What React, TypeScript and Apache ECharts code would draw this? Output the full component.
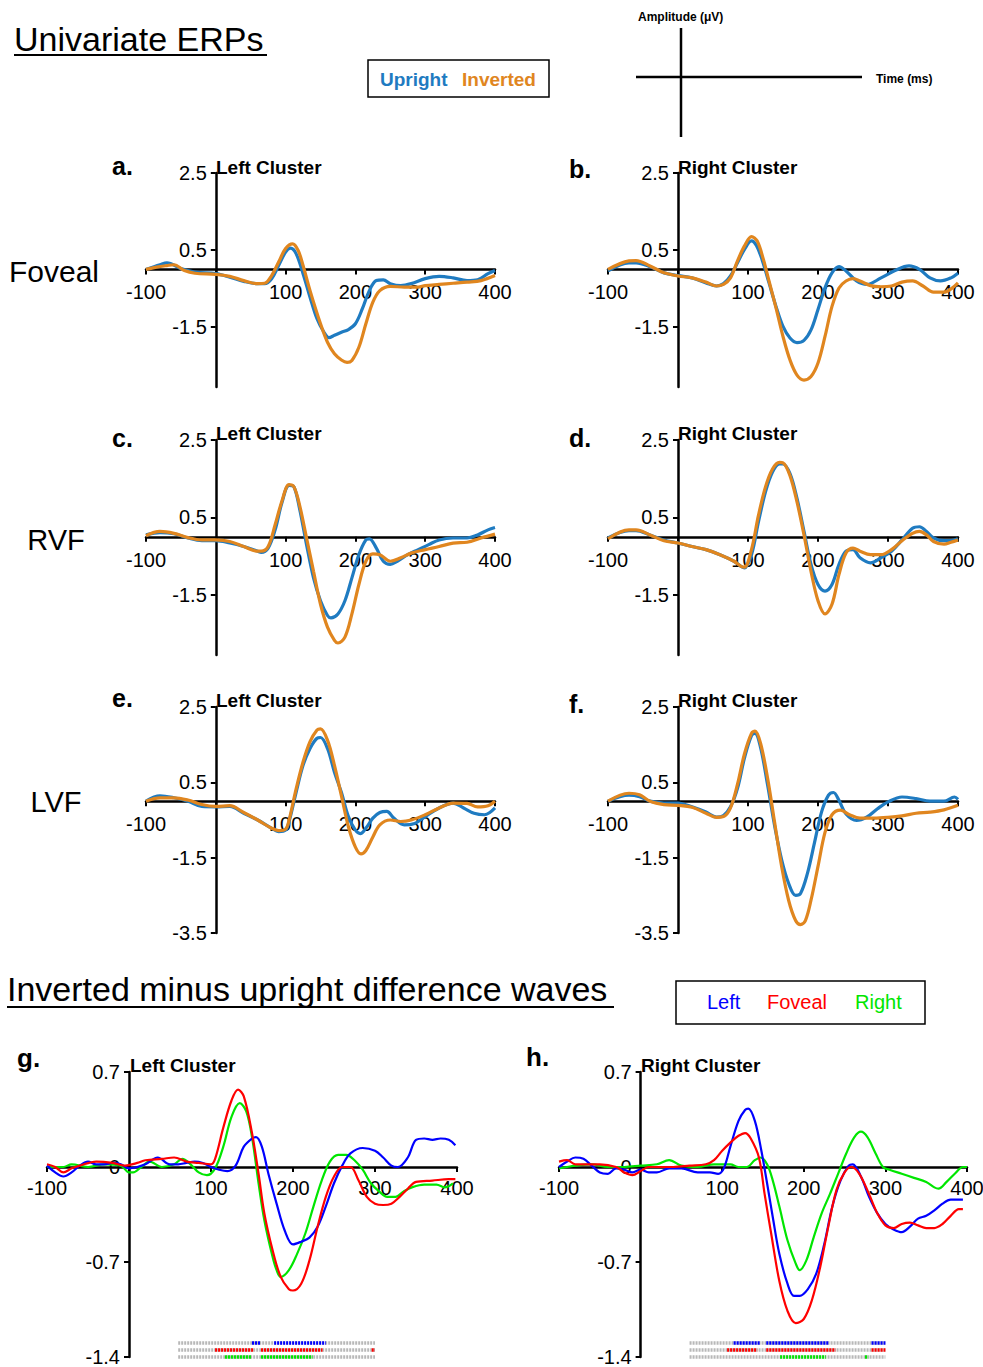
import React, { useEffect, useRef } from "react";
import * as echarts from "echarts";

const FONT = "'Liberation Sans', Arial, Helvetica, sans-serif";
const BLUE = "#1f7bc1";
const ORANGE = "#e0861f";
const C_LEFT = "#0000ff";
const C_FOV = "#ff0000";
const C_RIGHT = "#00e600";
const GRAY = "#b8b8b8";

// tick labels
const erpYTicksShort = [2.5, 0.5, -1.5];
const erpYTicksLong = [2.5, 0.5, -1.5, -3.5];

// ---- Univariate ERPs (time ms, amplitude µV) ----
const aUpright: number[][] = [[-100,0],[-80,0.12],[-70,0.17],[-50,0.02],[-30,-0.07],[0,-0.11],[20,-0.2],[40,-0.31],[60,-0.37],[70,-0.37],[80,-0.24],[90,0.1],[100,0.45],[107,0.55],[115,0.41],[125,-0.11],[135,-0.72],[145,-1.28],[155,-1.63],[162,-1.77],[170,-1.71],[180,-1.63],[190,-1.56],[200,-1.41],[210,-1.02],[220,-0.55],[230,-0.29],[240,-0.27],[250,-0.37],[265,-0.42],[280,-0.37],[300,-0.24],[320,-0.18],[340,-0.22],[360,-0.29],[375,-0.27],[390,-0.11],[400,-0.03]];
const aInverted: number[][] = [[-100,0],[-85,0.06],[-70,0.1],[-60,0.12],[-45,-0.03],[-30,-0.1],[0,-0.13],[20,-0.18],[40,-0.29],[60,-0.37],[70,-0.36],[80,-0.16],[90,0.19],[100,0.54],[110,0.66],[118,0.49],[125,0.1],[135,-0.55],[150,-1.41],[160,-1.89],[170,-2.19],[180,-2.35],[188,-2.41],[195,-2.36],[205,-2.02],[215,-1.41],[225,-0.85],[235,-0.55],[250,-0.44],[270,-0.46],[290,-0.46],[300,-0.42],[320,-0.39],[340,-0.36],[360,-0.33],[380,-0.29],[400,-0.16]];

const bUpright: number[][] = [[-100,-0.04],[-70,0.17],[-60,0.17],[-40,0.07],[-20,-0.09],[0,-0.16],[20,-0.22],[40,-0.35],[55,-0.43],[65,-0.37],[75,-0.17],[85,0.17],[95,0.52],[105,0.74],[112,0.62],[120,0.26],[130,-0.35],[140,-0.96],[150,-1.48],[160,-1.78],[170,-1.9],[180,-1.84],[190,-1.57],[200,-1.04],[210,-0.48],[220,-0.09],[230,0.07],[240,-0.04],[255,-0.3],[270,-0.39],[290,-0.22],[310,-0.03],[330,0.09],[345,0],[360,-0.22],[375,-0.3],[390,-0.22],[400,-0.1]];
const bInverted: number[][] = [[-100,0],[-70,0.22],[-60,0.23],[-40,0.09],[-20,-0.09],[0,-0.17],[20,-0.22],[40,-0.33],[55,-0.43],[65,-0.39],[75,-0.22],[85,0.22],[95,0.61],[105,0.85],[113,0.74],[122,0.26],[130,-0.3],[140,-1.0],[150,-1.74],[160,-2.35],[170,-2.74],[180,-2.87],[190,-2.78],[200,-2.43],[210,-1.74],[220,-0.96],[230,-0.48],[240,-0.3],[250,-0.24],[260,-0.3],[275,-0.42],[290,-0.45],[305,-0.43],[320,-0.33],[335,-0.3],[350,-0.43],[365,-0.59],[380,-0.59],[392,-0.48],[400,-0.35]];

const cUpright: number[][] = [[-100,0.05],[-80,0.11],[-60,0.08],[-40,-0.03],[-20,-0.1],[0,-0.1],[20,-0.16],[40,-0.25],[60,-0.37],[65,-0.4],[75,-0.29],[85,0.18],[95,0.9],[105,1.33],[112,1.29],[120,0.73],[130,-0.2],[140,-1.06],[150,-1.65],[160,-2.03],[165,-2.09],[175,-1.99],[185,-1.65],[195,-1.06],[205,-0.46],[215,-0.08],[220,-0.05],[230,-0.29],[240,-0.63],[250,-0.71],[260,-0.63],[275,-0.46],[290,-0.33],[305,-0.2],[320,-0.08],[340,-0.03],[360,-0.03],[375,0.05],[390,0.18],[400,0.24]];
const cInverted: number[][] = [[-100,0.03],[-80,0.14],[-60,0.09],[-40,-0.02],[-20,-0.08],[0,-0.08],[20,-0.12],[40,-0.25],[60,-0.37],[65,-0.37],[75,-0.25],[85,0.31],[95,0.94],[105,1.35],[112,1.29],[120,0.82],[130,-0.03],[140,-0.89],[150,-1.74],[160,-2.33],[170,-2.67],[175,-2.74],[185,-2.59],[195,-1.99],[205,-1.23],[215,-0.63],[225,-0.44],[235,-0.46],[250,-0.63],[265,-0.54],[280,-0.42],[300,-0.33],[320,-0.25],[340,-0.16],[360,-0.14],[380,-0.03],[400,0.07]];

const dUpright: number[][] = [[-100,-0.03],[-70,0.16],[-60,0.16],[-40,0.05],[-20,-0.08],[0,-0.16],[20,-0.25],[40,-0.33],[60,-0.46],[80,-0.63],[90,-0.76],[95,-0.8],[105,-0.46],[115,0.39],[125,1.16],[135,1.67],[145,1.88],[150,1.88],[160,1.63],[170,0.99],[180,0.14],[190,-0.71],[200,-1.23],[210,-1.4],[220,-1.23],[230,-0.71],[240,-0.37],[250,-0.33],[260,-0.54],[275,-0.67],[290,-0.54],[305,-0.37],[320,-0.08],[335,0.22],[345,0.26],[355,0.14],[365,-0.03],[380,-0.1],[390,-0.1],[400,-0.05]];
const dInverted: number[][] = [[-100,-0.05],[-70,0.18],[-60,0.18],[-40,0.05],[-20,-0.1],[0,-0.16],[20,-0.25],[40,-0.33],[60,-0.46],[80,-0.63],[90,-0.76],[95,-0.78],[105,-0.33],[115,0.56],[125,1.29],[135,1.75],[145,1.92],[150,1.91],[160,1.58],[170,0.9],[180,0.05],[190,-0.89],[200,-1.65],[210,-1.99],[220,-1.74],[230,-0.97],[240,-0.42],[250,-0.29],[260,-0.37],[275,-0.46],[290,-0.46],[305,-0.33],[320,-0.1],[335,0.09],[345,0.14],[355,0.05],[365,-0.12],[380,-0.19],[390,-0.14],[400,-0.08]];

const eUpright: number[][] = [[-100,0],[-80,0.14],[-60,0.09],[-40,0],[-20,-0.14],[0,-0.15],[20,-0.14],[40,-0.32],[60,-0.5],[80,-0.72],[90,-0.81],[100,-0.77],[105,-0.54],[115,0.23],[125,0.95],[135,1.4],[145,1.67],[150,1.69],[160,1.4],[170,0.77],[180,0.23],[190,-0.41],[200,-0.77],[207,-0.86],[215,-0.72],[225,-0.45],[235,-0.3],[245,-0.27],[255,-0.45],[270,-0.63],[285,-0.59],[300,-0.41],[320,-0.18],[340,-0.05],[355,-0.18],[370,-0.32],[385,-0.36],[400,-0.18]];
const eInverted: number[][] = [[-100,0],[-80,0.09],[-60,0.09],[-40,0.03],[-20,-0.09],[0,-0.14],[20,-0.12],[40,-0.3],[60,-0.5],[80,-0.72],[90,-0.78],[100,-0.74],[105,-0.5],[115,0.32],[125,1.04],[135,1.58],[145,1.89],[150,1.92],[160,1.62],[170,0.95],[180,0.14],[190,-0.68],[200,-1.22],[208,-1.4],[215,-1.31],[225,-0.95],[235,-0.63],[250,-0.5],[265,-0.54],[280,-0.5],[300,-0.36],[320,-0.18],[340,-0.05],[360,-0.06],[375,-0.15],[390,-0.12],[400,0]];

const fUpright: number[][] = [[-100,0],[-70,0.16],[-55,0.12],[-40,0],[-20,-0.05],[0,-0.05],[20,-0.15],[40,-0.29],[55,-0.42],[65,-0.38],[75,-0.15],[85,0.34],[95,1.15],[105,1.74],[110,1.8],[118,1.42],[128,0.43],[138,-0.65],[148,-1.55],[158,-2.18],[168,-2.5],[175,-2.45],[185,-1.91],[195,-1.1],[205,-0.29],[215,0.16],[222,0.23],[230,0.02],[240,-0.34],[255,-0.51],[270,-0.42],[285,-0.2],[300,-0.02],[320,0.11],[340,0.07],[360,0],[380,0],[395,0.11],[400,0.05]];
const fInverted: number[][] = [[-100,0],[-70,0.21],[-55,0.17],[-40,0],[-20,-0.09],[0,-0.11],[20,-0.16],[40,-0.32],[55,-0.43],[65,-0.41],[75,-0.18],[85,0.45],[95,1.26],[105,1.8],[110,1.86],[118,1.53],[128,0.61],[138,-0.56],[148,-1.73],[158,-2.63],[168,-3.17],[175,-3.28],[182,-3.17],[190,-2.63],[200,-1.73],[210,-0.83],[220,-0.36],[232,-0.24],[245,-0.36],[260,-0.45],[280,-0.45],[300,-0.43],[320,-0.39],[340,-0.32],[360,-0.29],[380,-0.23],[400,-0.11]];

// ---- Inverted minus upright difference waves ----
const gLeft: number[][] = [[-100,0.01],[-90,-0.04],[-80,-0.07],[-70,-0.04],[-60,0.01],[-50,0.04],[-40,0.02],[-30,0.02],[-20,0.03],[-10,0.02],[0,-0.01],[10,0],[20,0.02],[35,0.07],[50,0.02],[60,0.02],[70,0.03],[80,0.04],[90,0.03],[100,0],[110,-0.02],[120,-0.03],[130,0.01],[140,0.15],[150,0.21],[155,0.22],[162,0.15],[170,-0.05],[180,-0.27],[190,-0.47],[200,-0.57],[210,-0.55],[220,-0.52],[230,-0.44],[240,-0.29],[250,-0.12],[260,0.01],[270,0.1],[285,0.14],[300,0.12],[310,0.07],[320,0.01],[328,0],[340,0.07],[350,0.2],[360,0.21],[370,0.2],[380,0.21],[390,0.2],[398,0.16]];
const gFoveal: number[][] = [[-100,0.02],[-90,0],[-80,-0.04],[-70,-0.01],[-60,0.01],[-40,0.04],[-20,0.03],[-5,0.01],[10,0.03],[20,0.05],[40,0.06],[55,0.07],[70,0.04],[85,0.03],[100,0.02],[105,0.06],[115,0.29],[125,0.49],[133,0.57],[140,0.52],[150,0.25],[158,-0.05],[165,-0.34],[175,-0.61],[185,-0.81],[195,-0.9],[200,-0.91],[210,-0.86],[220,-0.69],[230,-0.44],[240,-0.22],[250,-0.07],[260,0],[270,0],[280,-0.1],[290,-0.22],[300,-0.27],[310,-0.28],[320,-0.27],[330,-0.22],[340,-0.16],[350,-0.11],[370,-0.1],[390,-0.09],[398,-0.09]];
const gRight: number[][] = [[-100,0],[-90,0],[-80,0],[-70,0.02],[-50,0],[-30,0.02],[-10,0.01],[0,-0.04],[5,-0.04],[15,0],[25,0.04],[40,0],[55,0.02],[65,0.06],[75,0.02],[85,-0.04],[95,-0.06],[105,-0.01],[115,0.15],[125,0.37],[135,0.47],[143,0.41],[150,0.22],[158,-0.12],[165,-0.39],[175,-0.66],[180,-0.76],[185,-0.81],[195,-0.76],[205,-0.64],[215,-0.49],[225,-0.29],[235,-0.1],[245,0.04],[255,0.09],[265,0.09],[275,0.05],[285,-0.02],[295,-0.12],[305,-0.18],[315,-0.22],[325,-0.22],[335,-0.18],[345,-0.15],[360,-0.13],[375,-0.13],[385,-0.15],[395,-0.12]];

const hLeft: number[][] = [[-100,0],[-90,0.04],[-80,0.07],[-70,0.06],[-60,0.01],[-50,-0.04],[-40,-0.05],[-30,-0.01],[-20,-0.02],[-10,-0.04],[0,-0.02],[10,-0.04],[20,-0.04],[35,-0.01],[50,-0.01],[70,-0.04],[85,-0.04],[95,-0.05],[102,-0.01],[110,0.15],[120,0.34],[128,0.42],[132,0.43],[140,0.34],[148,0.12],[155,-0.12],[162,-0.37],[170,-0.64],[180,-0.86],[188,-0.95],[195,-0.95],[205,-0.9],[215,-0.79],[225,-0.57],[235,-0.29],[245,-0.1],[255,0.01],[260,0.02],[270,-0.07],[280,-0.22],[290,-0.34],[300,-0.42],[310,-0.46],[320,-0.48],[330,-0.44],[340,-0.38],[350,-0.36],[360,-0.32],[370,-0.27],[380,-0.24],[395,-0.24]];
const hFoveal: number[][] = [[-100,0.04],[-90,0.05],[-80,0.02],[-70,0.02],[-50,0.02],[-30,0],[-20,-0.04],[-10,-0.06],[0,-0.03],[10,0],[25,0],[40,0],[60,0.01],[80,0.02],[90,0.05],[100,0.12],[110,0.18],[120,0.23],[128,0.25],[135,0.21],[145,0.07],[152,-0.2],[160,-0.49],[170,-0.84],[180,-1.06],[190,-1.15],[200,-1.12],[210,-0.98],[220,-0.74],[230,-0.44],[240,-0.17],[250,-0.04],[258,0],[268,-0.05],[280,-0.2],[290,-0.34],[300,-0.43],[310,-0.45],[320,-0.42],[330,-0.41],[340,-0.43],[350,-0.45],[360,-0.45],[370,-0.42],[380,-0.36],[390,-0.31],[395,-0.31]];
const hRight: number[][] = [[-100,-0.01],[-90,0],[-80,0.01],[-60,0.02],[-40,0],[-20,0],[0,0.01],[20,0.02],[35,0.05],[50,0.01],[70,0],[90,0.02],[100,0.02],[110,0.02],[120,0],[130,0],[140,0.05],[147,0.07],[155,0.02],[162,-0.1],[170,-0.29],[180,-0.54],[190,-0.71],[195,-0.76],[203,-0.69],[212,-0.52],[222,-0.34],[232,-0.2],[242,-0.05],[252,0.1],[262,0.22],[270,0.26],[278,0.22],[288,0.1],[297,0],[305,-0.02],[320,-0.05],[335,-0.08],[350,-0.11],[360,-0.15],[365,-0.16],[375,-0.11],[385,-0.05],[395,0],[400,0]];

// significance rows (ms ranges)
const sigTested = [60, 300];
const sigGLeft = [[150, 161], [177, 240]];
const sigGFoveal = [[105, 152], [161, 236], [296, 300]];
const sigGRight = [[117, 149], [161, 224]];
const sigHLeft = [[114, 146], [154, 231], [283, 300]];
const sigHFoveal = [[106, 143], [154, 239], [283, 300]];
const sigHRight = [[171, 227], [275, 279]];
const sigRowLevels = [-1.297, -1.348, -1.399];

const AXIS_COLOR = "#000";
const X_MIN = -100;
const X_MAX = 400;

function textEl(text: string, x: number, y: number, o: any = {}) {
  const align = o.align || "left";
  const va = o.va || "middle";
  return {
    type: "text",
    x,
    y,
    silent: true,
    z: 100,
    style: {
      text,
      fill: o.color || "#000",
      fontSize: o.size || 16,
      fontWeight: o.weight || "normal",
      fontFamily: FONT,
      align,
      verticalAlign: va,
      textAlign: align,
      textVerticalAlign: va,
    },
  };
}

function lineEl(x1: number, y1: number, x2: number, y2: number, w: number) {
  return {
    type: "line",
    silent: true,
    z: 100,
    shape: { x1, y1, x2, y2 },
    style: { stroke: "#000", lineWidth: w },
  };
}

function rectEl(x: number, y: number, w: number, h: number) {
  return {
    type: "rect",
    silent: true,
    z: 100,
    shape: { x, y, width: w, height: h },
    style: { fill: "transparent", stroke: "#000", lineWidth: 1.5 },
  };
}

export default function App() {
  const ref = useRef<HTMLDivElement>(null);

  useEffect(() => {
    if (!ref.current) return;
    const chart = echarts.init(ref.current, undefined, { renderer: "svg" });

    const panels: any[] = [
      { grid: { left: 146, top: 173, width: 349, height: 214 }, ymin: -3.05, ymax: 2.5, ticks: erpYTicksShort, lines: [[aUpright, BLUE], [aInverted, ORANGE]] },
      { grid: { left: 608, top: 173, width: 350, height: 214 }, ymin: -3.05, ymax: 2.5, ticks: erpYTicksShort, lines: [[bUpright, BLUE], [bInverted, ORANGE]] },
      { grid: { left: 146, top: 440, width: 349, height: 215 }, ymin: -3.05, ymax: 2.5, ticks: erpYTicksShort, lines: [[cUpright, BLUE], [cInverted, ORANGE]] },
      { grid: { left: 608, top: 440, width: 350, height: 215 }, ymin: -3.05, ymax: 2.5, ticks: erpYTicksShort, lines: [[dUpright, BLUE], [dInverted, ORANGE]] },
      { grid: { left: 146, top: 707, width: 349, height: 226 }, ymin: -3.5, ymax: 2.5, ticks: erpYTicksLong, lines: [[eUpright, BLUE], [eInverted, ORANGE]] },
      { grid: { left: 608, top: 707, width: 350, height: 226 }, ymin: -3.5, ymax: 2.5, ticks: erpYTicksLong, lines: [[fUpright, BLUE], [fInverted, ORANGE]] },
      { grid: { left: 47, top: 1072, width: 410, height: 285 }, ymin: -1.4, ymax: 0.7, diff: true, lines: [[gRight, C_RIGHT], [gLeft, C_LEFT], [gFoveal, C_FOV]], sig: [sigGLeft, sigGFoveal, sigGRight] },
      { grid: { left: 559, top: 1072, width: 408, height: 285 }, ymin: -1.4, ymax: 0.7, diff: true, lines: [[hRight, C_RIGHT], [hLeft, C_LEFT], [hFoveal, C_FOV]], sig: [sigHLeft, sigHFoveal, sigHRight] },
    ];

    const grids: any[] = [];
    const xAxes: any[] = [];
    const yAxes: any[] = [];
    const series: any[] = [];

    panels.forEach((p, i) => {
      grids.push({ ...p.grid, containLabel: false, outerBoundsMode: "none", show: false });
      // shift axes so that they cross at (0, 0)
      const xOffset = -((0 - p.ymin) / (p.ymax - p.ymin)) * p.grid.height;
      const yOffset = -((0 - X_MIN) / (X_MAX - X_MIN)) * p.grid.width;
      xAxes.push({
        gridIndex: i,
        type: "value",
        position: "bottom",
        offset: xOffset,
        min: X_MIN,
        max: X_MAX,
        interval: 100,
        axisLine: { show: true, onZero: false, lineStyle: { color: AXIS_COLOR, width: 2.5 } },
        axisTick: { show: true, length: 5, lineStyle: { color: AXIS_COLOR, width: 2 } },
        axisLabel: {
          formatter: (v: number) => (v === 0 ? "" : String(v)),
          color: "#000",
          fontSize: 20,
          fontFamily: FONT,
          margin: p.diff ? 11 : 13,
        },
        splitLine: { show: false },
      });
      if (p.diff) {
        yAxes.push({
          gridIndex: i,
          type: "value",
          position: "left",
          offset: yOffset,
          min: -1.4,
          max: 0.7,
          interval: 0.7,
          axisLine: { show: true, onZero: false, lineStyle: { color: AXIS_COLOR, width: 2.5 } },
          axisTick: { show: true, length: 5, lineStyle: { color: AXIS_COLOR, width: 2 } },
          axisLabel: {
            formatter: (v: number) => String(Number(v.toFixed(1))),
            color: "#000",
            fontSize: 20,
            fontFamily: FONT,
            margin: 9,
          },
          splitLine: { show: false },
        });
      } else {
        yAxes.push({
          gridIndex: i,
          type: "value",
          position: "left",
          offset: yOffset,
          min: p.ymin,
          max: p.ymax,
          axisLine: { show: true, onZero: false, lineStyle: { color: AXIS_COLOR, width: 2.5 } },
          axisTick: { show: true, length: 5, customValues: p.ticks, lineStyle: { color: AXIS_COLOR, width: 2 } },
          axisLabel: {
            customValues: p.ticks,
            formatter: (v: number) => String(v),
            color: "#000",
            fontSize: 20,
            fontFamily: FONT,
            margin: 9,
          },
          splitLine: { show: false },
        });
      }
      p.lines.forEach(([data, color]: any) => {
        series.push({
          type: "line",
          xAxisIndex: i,
          yAxisIndex: i,
          data,
          smooth: 0.35,
          showSymbol: false,
          silent: true,
          lineStyle: { color, width: p.diff ? 2.2 : 3.2 },
          z: 3,
        });
      });
      if (p.sig) {
        const colors = [C_LEFT, C_FOV, C_RIGHT];
        p.sig.forEach((segs: number[][], r: number) => {
          const yv = sigRowLevels[r];
          series.push({
            type: "lines",
            coordinateSystem: "cartesian2d",
            xAxisIndex: i,
            yAxisIndex: i,
            silent: true,
            clip: false,
            z: 4,
            lineStyle: { color: GRAY, width: 3.5, type: [2, 1], opacity: 1 },
            data: [{ coords: [[sigTested[0], yv], [sigTested[1], yv]] }],
          });
          series.push({
            type: "lines",
            coordinateSystem: "cartesian2d",
            xAxisIndex: i,
            yAxisIndex: i,
            silent: true,
            clip: false,
            z: 5,
            lineStyle: { color: colors[r], width: 3.5, type: [2, 1], opacity: 1 },
            data: segs.map((s) => ({ coords: [[s[0], yv], [s[1], yv]] })),
          });
        });
      }
    });

    const graphic: any[] = [
      // headings
      textEl("Univariate ERPs", 14, 39, { size: 34 }),
      lineEl(14, 55, 267, 55, 2),
      textEl("Inverted minus upright difference waves", 7, 989, { size: 34 }),
      lineEl(7, 1007, 614, 1007, 2),
      // legend 1
      rectEl(368, 60, 181, 37),
      textEl("Upright", 380, 79, { size: 19, weight: "bold", color: BLUE }),
      textEl("Inverted", 462, 79, { size: 19, weight: "bold", color: ORANGE }),
      // legend 2
      rectEl(676, 981, 249, 43),
      textEl("Left", 707, 1002, { size: 20, color: C_LEFT }),
      textEl("Foveal", 767, 1002, { size: 20, color: C_FOV }),
      textEl("Right", 855, 1002, { size: 20, color: C_RIGHT }),
      // axis schematic
      lineEl(681, 28, 681, 137, 2.5),
      lineEl(636, 77, 862, 77, 2.5),
      textEl("Amplitude (\u03bcV)", 638, 17, { size: 12, weight: "bold" }),
      textEl("Time (ms)", 876, 79, { size: 12, weight: "bold" }),
      // row labels
      textEl("Foveal", 54, 271, { size: 30, align: "center" }),
      textEl("RVF", 56, 540, { size: 29, align: "center" }),
      textEl("LVF", 56, 802, { size: 29, align: "center" }),
      // panel letters
      textEl("a.", 112, 166, { size: 25, weight: "bold" }),
      textEl("b.", 569, 169, { size: 25, weight: "bold" }),
      textEl("c.", 112, 438, { size: 25, weight: "bold" }),
      textEl("d.", 569, 438, { size: 25, weight: "bold" }),
      textEl("e.", 112, 698, { size: 25, weight: "bold" }),
      textEl("f.", 569, 704, { size: 25, weight: "bold" }),
      textEl("g.", 17, 1058, { size: 26, weight: "bold" }),
      textEl("h.", 526, 1057, { size: 26, weight: "bold" }),
      // panel titles
      textEl("Left Cluster", 216, 167, { size: 19, weight: "bold" }),
      textEl("Right Cluster", 678, 167, { size: 19, weight: "bold" }),
      textEl("Left Cluster", 216, 433, { size: 19, weight: "bold" }),
      textEl("Right Cluster", 678, 433, { size: 19, weight: "bold" }),
      textEl("Left Cluster", 216, 700, { size: 19, weight: "bold" }),
      textEl("Right Cluster", 678, 700, { size: 19, weight: "bold" }),
      textEl("Left Cluster", 130, 1065, { size: 19, weight: "bold" }),
      textEl("Right Cluster", 641, 1065, { size: 19, weight: "bold" }),
    ];

    chart.setOption({
      animation: false,
      backgroundColor: "#fff",
      textStyle: { fontFamily: FONT },
      grid: grids,
      xAxis: xAxes,
      yAxis: yAxes,
      series,
      graphic,
    });

    return () => chart.dispose();
  }, []);

  return (
    <div
      ref={ref}
      style={{ position: "absolute", left: 0, top: 0, width: 983, height: 1367, background: "#fff" }}
    />
  );
}
